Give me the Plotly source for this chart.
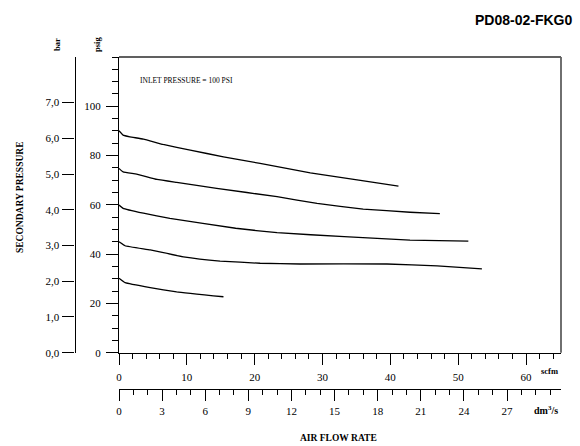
import plotly.graph_objects as go

# ---- data ----
flow_90 = [0.0, 0.6, 1.6, 3.6, 6.5, 10.5, 15.4, 20.8, 28.2, 35.1, 41.2]
psig_90 = [90.1, 88.3, 87.6, 86.7, 84.5, 82.2, 79.5, 76.8, 73.0, 70.1, 67.6]

flow_75 = [0.0, 0.6, 2.6, 5.6, 8.5, 14.4, 23.3, 29.2, 36.0, 42.9, 47.3]
psig_75 = [74.8, 73.4, 72.5, 70.3, 69.1, 66.7, 63.3, 60.6, 58.3, 57.0, 56.4]

flow_60 = [0.0, 0.6, 3.6, 7.5, 17.2, 23.3, 33.2, 42.9, 51.5]
psig_60 = [59.9, 58.6, 56.6, 54.5, 50.5, 48.7, 47.1, 45.7, 45.3]

flow_45 = [0.0, 0.9, 4.6, 9.5, 14.9, 20.8, 26.7, 39.5, 46.9, 53.5]
psig_45 = [45.0, 43.4, 41.7, 38.9, 37.2, 36.3, 36.0, 36.0, 35.2, 34.0]

flow_30 = [0.0, 0.9, 4.6, 8.5, 15.4]
psig_30 = [30.2, 28.4, 26.4, 24.7, 22.7]

curves = [(flow_90, psig_90), (flow_75, psig_75), (flow_60, psig_60),
          (flow_45, psig_45), (flow_30, psig_30)]

bar_ticks = [0, 1, 2, 3, 4, 5, 6, 7]
bar_labels = ["0,0", "1,0", "2,0", "3,0", "4,0", "5,0", "6,0", "7,0"]
psig_ticks = [0, 20, 40, 60, 80, 100]
scfm_ticks = [0, 10, 20, 30, 40, 50, 60]
dm3_ticks = [0, 3, 6, 9, 12, 15, 18, 21, 24, 27]

PSI_PER_BAR = 14.5038
DM3S_PER_SCFM = 0.4719474
SCFM_MAX = 65.16
PSIG_MAX = 120.0

# ---- layout geometry helpers ----
W, H = 580, 446
ML, MR, MT, MB = 0, 19, 57, 0
PW, PH = W - ML - MR, H - MT - MB


def px(x):
    return (x - ML) / PW


def py(y):
    return (H - MB - y) / PH


SERIF = "Liberation Serif, Times New Roman, serif"

fig = go.Figure()
for fx, fy in curves:
    fig.add_trace(go.Scatter(x=fx, y=fy, mode="lines",
                             line=dict(color="black", width=1.3, shape="spline", smoothing=0.3),
                             hoverinfo="skip", showlegend=False))

# empty traces to register the secondary axes
fig.add_trace(go.Scatter(x=[None], y=[None], xaxis="x2", yaxis="y", mode="lines",
                         showlegend=False, hoverinfo="skip"))
fig.add_trace(go.Scatter(x=[None], y=[None], xaxis="x", yaxis="y2", mode="lines",
                         showlegend=False, hoverinfo="skip"))

tickfont = dict(family=SERIF, size=11, color="black")

fig.update_layout(
    width=W, height=H,
    margin=dict(l=ML, r=MR, t=MT, b=MB, pad=0, autoexpand=False),
    paper_bgcolor="white", plot_bgcolor="white",
    showlegend=False,
    xaxis=dict(domain=[px(119), 1], range=[0, SCFM_MAX], anchor="y", automargin=False,
               showline=True, linecolor="black", linewidth=1.3, showgrid=False, zeroline=False,
               ticks="outside", ticklen=11, tickwidth=1.2, tickcolor="black",
               tickvals=scfm_ticks, tickfont=tickfont, ticklabelstandoff=3,
               minor=dict(dtick=2, ticks="outside", ticklen=5, tickwidth=1.2, tickcolor="black", showgrid=False)),
    xaxis2=dict(overlaying="x", anchor="free", position=py(389.3), side="bottom", automargin=False,
                range=[0, SCFM_MAX * DM3S_PER_SCFM],
                showline=True, linecolor="black", linewidth=1.3, showgrid=False, zeroline=False,
                ticks="outside", ticklen=11, tickwidth=1.2, tickcolor="black",
                tickvals=dm3_ticks, tickfont=tickfont, ticklabelstandoff=0,
                minor=dict(dtick=1, ticks="outside", ticklen=5, tickwidth=1.2, tickcolor="black", showgrid=False)),
    yaxis=dict(domain=[py(352.7), 1], range=[0, PSIG_MAX], anchor="x", automargin=False,
               showline=True, linecolor="black", linewidth=1.3, showgrid=False, zeroline=False,
               ticks="outside", ticklen=12, tickwidth=1.2, tickcolor="black",
               tickvals=psig_ticks, tickfont=tickfont, ticklabelstandoff=3,
               minor=dict(dtick=5, ticks="outside", ticklen=6, tickwidth=1.2, tickcolor="black", showgrid=False)),
    yaxis2=dict(overlaying="y", anchor="free", position=px(74.5), side="left", automargin=False,
                range=[0, PSIG_MAX / PSI_PER_BAR],
                showline=True, linecolor="black", linewidth=1.3, showgrid=False, zeroline=False,
                ticks="outside", ticklen=12, tickwidth=1.2, tickcolor="black",
                tickvals=bar_ticks, ticktext=bar_labels, tickfont=tickfont, ticklabelstandoff=1),
)

# top and right frame lines
fig.add_shape(type="line", xref="x domain", yref="y domain", x0=0, x1=1, y0=1, y1=1,
              line=dict(color="#606060", width=1.8))
fig.add_shape(type="line", xref="x domain", yref="y domain", x0=1, x1=1, y0=0, y1=1,
              line=dict(color="#606060", width=1.8))


def note(text, x, y, size, bold=True, angle=0, family=SERIF, xanchor="center", color="black"):
    t = f"<b>{text}</b>" if bold else text
    fig.add_annotation(text=t, x=px(x), y=py(y), xref="paper", yref="paper",
                       showarrow=False, textangle=angle, xanchor=xanchor, yanchor="middle",
                       font=dict(family=family, size=size, color=color))


note("PD08-02-FKG0", 574, 20, 14, family="Liberation Sans, Arial, sans-serif", xanchor="right")
note("SECONDARY PRESSURE", 20, 197, 9.5, angle=-90)
note("bar", 57, 45, 8.5, angle=-90)
note("psig", 97, 45, 8.5, angle=-90)
note("INLET PRESSURE = 100 PSI", 138, 80, 7.5, bold=False, xanchor="left")
note("scfm", 549, 371, 8.5)
note("dm<sup>3</sup>/s", 546, 410, 10)
note("AIR FLOW RATE", 338, 438, 9.5)

fig.write_html("out.html", config={"displayModeBar": False},
               post_script="document.body.style.margin='0px';document.body.style.overflow='hidden';")
